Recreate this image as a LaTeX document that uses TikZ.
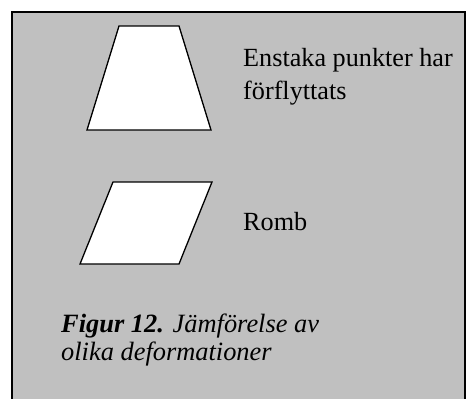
\documentclass[tikz,border=0pt]{standalone}
\usepackage{fontspec}
\setmainfont{Liberation Serif}
\begin{document}
\begin{tikzpicture}[x=1pt,y=-1pt,
  shapeline/.style={draw=black,line width=1.3pt,fill=white,line join=miter},
  lbl/.style={anchor=base west,inner sep=0pt,font=\fontsize{26.2}{30}\selectfont},
  captext/.style={lbl,font=\fontsize{26.4}{30}\selectfont\itshape}]
\useasboundingbox (0,0) rectangle (466,399);
\fill[white] (0,0) rectangle (466,399);
\begin{scope}
\clip (0,0) rectangle (466,399);
\draw[fill={rgb,255:red,192;green,192;blue,192},line width=1.3pt] (12,12) rectangle (465,405);
\end{scope}
\draw[shapeline] (119,26) coordinate (t1) -- (179,26) coordinate (t2) -- (211,130) coordinate (t3) -- (87,130) coordinate (t4) -- cycle;
\draw[shapeline] (113,182) coordinate (p1) -- (212,182) coordinate (p2) -- (179,264) coordinate (p3) -- (80,264) coordinate (p4) -- cycle;
\node[lbl] (txt1a) at (243,66) {Enstaka punkter har};
\node[lbl] (txt1b) at (243,99.5) {förflyttats};
\node[lbl] (txt2) at (243,230) {Romb};
\node[captext] (cap1) at (61,332) {\textbf{Figur 12.} Jämförelse av};
\node[captext] (cap2) at (61,360) {olika deformationer};
\end{tikzpicture}
\end{document}
